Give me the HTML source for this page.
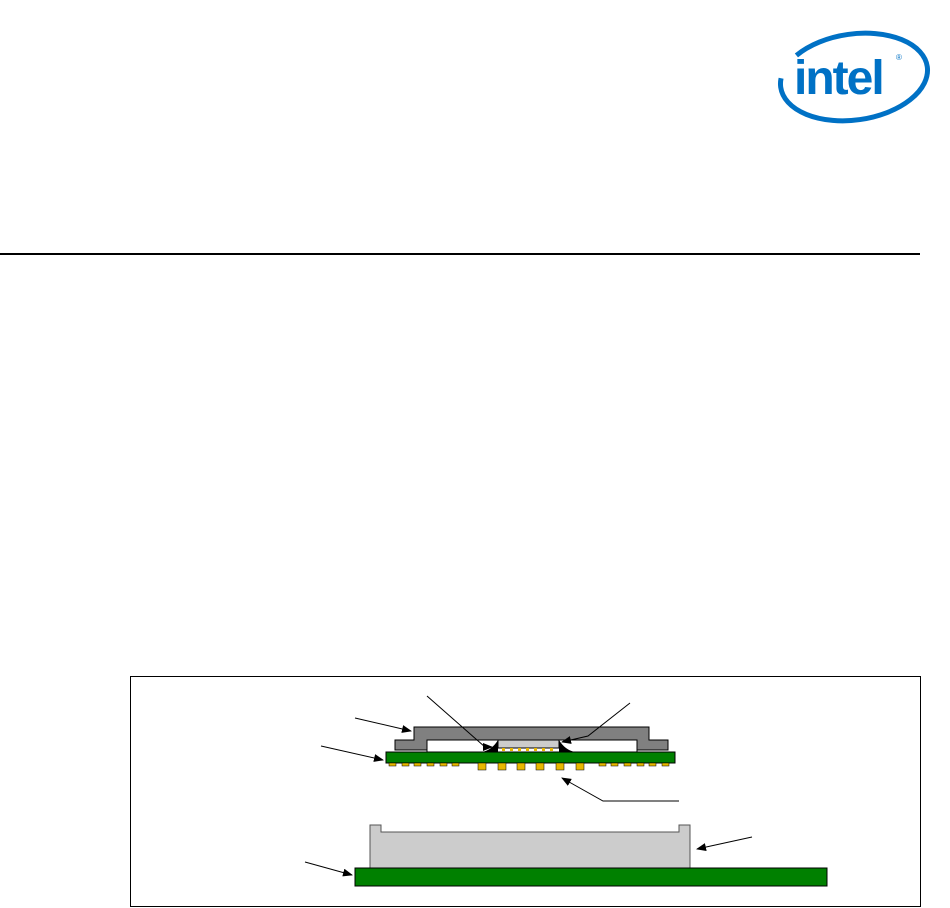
<!DOCTYPE html>
<html><head><meta charset="utf-8"><style>
html,body{margin:0;padding:0;background:#fff}
body{width:950px;height:908px;position:relative;overflow:hidden;font-family:"Liberation Sans",sans-serif}
</style></head><body>
<svg width="950" height="908" viewBox="0 0 950 908" xmlns="http://www.w3.org/2000/svg" style="position:absolute;left:0;top:0">
<defs><marker id="a" markerWidth="10" markerHeight="8" refX="9" refY="4" orient="auto" markerUnits="userSpaceOnUse"><path d="M0,0 L10,4 L0,8 z" fill="#000"/></marker></defs>
<!-- logo -->
<ellipse cx="854" cy="77" rx="74" ry="43" fill="none" stroke="#0071c5" stroke-width="5" transform="rotate(-8 854 77)" stroke-dasharray="196 28 200"/>
<text x="794" y="94" font-family="Liberation Sans" font-weight="bold" font-size="48" fill="#0071c5" letter-spacing="-2">intel</text>
<text x="896" y="60" font-size="8" fill="#0071c5">®</text>
<line x1="0" y1="254" x2="920" y2="254" stroke="#000" stroke-width="2"/>
<rect x="130.5" y="676.5" width="790" height="230" fill="none" stroke="#000" stroke-width="1"/>
<!-- package -->
<rect x="386" y="752" width="289" height="11" fill="#008000" stroke="#000"/>
<g fill="#e8b800" stroke="#000" stroke-width="0.5">
<rect x="389" y="763" width="7" height="3"/><rect x="402" y="763" width="7" height="3"/><rect x="414" y="763" width="7" height="3"/><rect x="427" y="763" width="7" height="3"/><rect x="440" y="763" width="7" height="3"/><rect x="452" y="763" width="7" height="3"/>
<rect x="478" y="763" width="8" height="7"/><rect x="498" y="763" width="8" height="7"/><rect x="517" y="763" width="8" height="7"/><rect x="536" y="763" width="8" height="7"/><rect x="556" y="763" width="8" height="7"/><rect x="576" y="763" width="8" height="7"/>
<rect x="599" y="763" width="7" height="3"/><rect x="611" y="763" width="7" height="3"/><rect x="624" y="763" width="7" height="3"/><rect x="637" y="763" width="7" height="3"/><rect x="649" y="763" width="7" height="3"/><rect x="662" y="763" width="7" height="3"/>
<rect x="455" y="748" width="9" height="4"/><rect x="593" y="748" width="9" height="4"/>
</g>
<path d="M414,727 H649 V740 H668 V750 H395 V740 H414 Z" fill="#808080" stroke="#000"/>
<rect x="427" y="740" width="210" height="12" fill="#fff" stroke="#000"/>
<rect x="498" y="740" width="61" height="8" fill="#ccc" stroke="#000"/>
<g fill="#e8b800"><rect x="502" y="748" width="3" height="3"/><rect x="510" y="748" width="3" height="3"/><rect x="518" y="748" width="3" height="3"/><rect x="526" y="748" width="3" height="3"/><rect x="534" y="748" width="3" height="3"/><rect x="542" y="748" width="3" height="3"/><rect x="550" y="748" width="3" height="3"/></g>
<path d="M498,740 Q492,750 482,752 H498 Z" fill="#000"/>
<path d="M559,740 Q565,750 575,752 H559 Z" fill="#000"/>
<!-- socket -->
<path d="M370,825 H381 V832 H679 V825 H690 V868 H370 Z" fill="#ccc" stroke="#555"/>
<rect x="355" y="868" width="472" height="18" fill="#008000" stroke="#000"/>
<!-- arrows -->
<g stroke="#000" stroke-width="1" fill="none" marker-end="url(#a)">
<line x1="355" y1="718" x2="411" y2="731"/>
<line x1="321" y1="746" x2="383" y2="760"/>
<polyline points="427,696 485,747 492,747"/>
<polyline points="630,703 588,736 562,742"/>
<polyline points="679,801 603,801 562,778"/>
<line x1="752" y1="837" x2="697" y2="849"/>
<line x1="305" y1="862" x2="352" y2="875"/>
</g>
</svg>
</body></html>
